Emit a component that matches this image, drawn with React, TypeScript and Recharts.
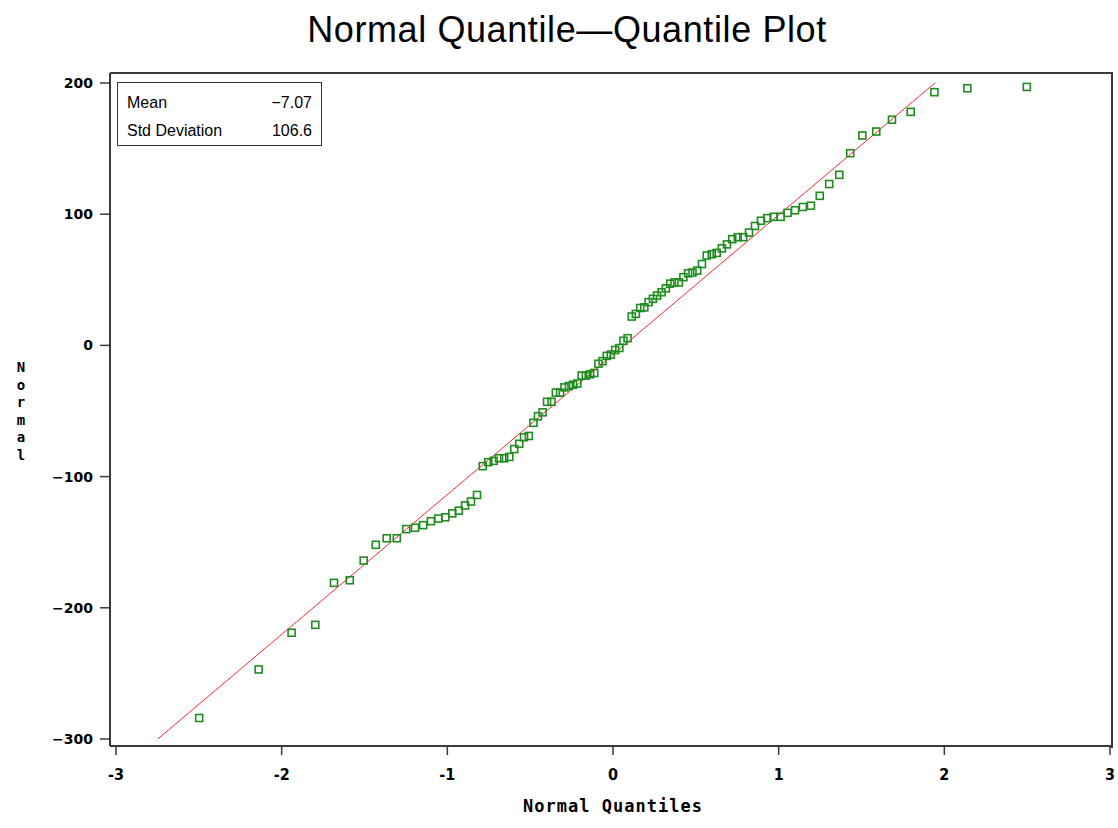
import React from 'react';
import { ScatterChart, Scatter, XAxis, YAxis, ReferenceLine } from 'recharts';

// normal quantiles (x) and sorted sample values (y)
const quantiles = [
  -2.498, -2.139, -1.94, -1.797, -1.684, -1.589, -1.505, -1.432, -1.366, -1.305,
  -1.248, -1.195, -1.146, -1.099, -1.054, -1.012, -0.97, -0.931, -0.893, -0.857,
  -0.821, -0.786, -0.753, -0.72, -0.688, -0.657, -0.626, -0.596, -0.566, -0.537,
  -0.508, -0.48, -0.453, -0.425, -0.398, -0.371, -0.345, -0.319, -0.293, -0.266,
  -0.241, -0.215, -0.189, -0.164, -0.138, -0.113, -0.088, -0.063, -0.038, -0.013,
  0.013, 0.038, 0.063, 0.088, 0.113, 0.138, 0.164, 0.189, 0.215, 0.241,
  0.266, 0.293, 0.319, 0.345, 0.371, 0.398, 0.425, 0.453, 0.48, 0.508,
  0.537, 0.566, 0.596, 0.626, 0.657, 0.688, 0.72, 0.753, 0.786, 0.821,
  0.857, 0.893, 0.931, 0.97, 1.012, 1.054, 1.099, 1.146, 1.195, 1.248,
  1.305, 1.366, 1.432, 1.505, 1.589, 1.684, 1.797, 1.94, 2.139, 2.498,
];

const values = [
  -284, -247, -219, -213, -181, -179, -164, -152, -147, -147,
  -140, -139, -137, -134, -132, -131, -128, -126, -122, -119,
  -114, -92, -89, -88, -86, -86, -85, -79, -75, -70,
  -69, -59, -54, -51, -43, -43, -36, -36, -32, -31,
  -30, -29, -23, -23, -22, -21, -14, -12, -8, -7,
  -3.5, -2, 3.5, 5.5, 22, 24, 28.5, 29, 33, 35.5,
  38, 40.5, 43.5, 47, 48, 48, 52, 55, 55.5, 57,
  62, 68.5, 69.5, 70.5, 74, 77, 81, 82.5, 82.5, 86,
  91, 95, 97, 98, 98, 101, 103, 105.5, 106.5, 114,
  123, 130, 146.5, 160, 163, 172, 178, 193, 196, 197,
];

const xTicks = [-3, -2, -1, 0, 1, 2, 3];
const yTicks = [-300, -200, -100, 0, 100, 200];

// fitted reference line: mean + std * quantile, clipped to the y range
const fitLine = [
  { x: -2.748, y: -300 },
  { x: 1.943, y: 200 },
];

const stats = [
  { label: 'Mean', value: '\u22127.07' },
  { label: 'Std Deviation', value: '106.6' },
];

const points = quantiles.map((q, i) => ({ x: q, y: values[i] }));

const frame = '#3a3a3a';

const Square = (props: any) => {
  const { cx, cy } = props;
  if (cx == null || cy == null) return null;
  return (
    <rect x={cx - 3.5} y={cy - 3.5} width={7} height={7} fill="none" stroke="#1e8c1e" strokeWidth={1.6} />
  );
};

export default function App() {
  return (
    <div style={{ position: 'relative', width: 1118, height: 828, background: '#fff' }}>
      <style>{'body{margin:0;background:#fff}'}</style>
      <div
        style={{
          position: 'absolute',
          top: 9,
          left: 0,
          width: 1134,
          textAlign: 'center',
          fontFamily: '"Liberation Sans", Arial, sans-serif',
          fontSize: 36,
          letterSpacing: 0.6,
          color: '#000',
        }}
      >
        Normal Quantile{'\u2014'}Quantile Plot
      </div>

      <ScatterChart width={1118} height={828} margin={{ top: 73, right: 5, bottom: 0, left: 0 }}>
        <XAxis
          type="number"
          dataKey="x"
          domain={[-3, 3]}
          ticks={xTicks}
          padding={{ left: 6, right: 3 }}
          height={82}
          tickSize={9}
          tickMargin={14}
          axisLine={{ stroke: frame, strokeWidth: 2 }}
          tickLine={{ stroke: frame, strokeWidth: 1.5 }}
          tick={{
            fill: '#000',
            fontSize: 16,
            fontWeight: 'bold',
            fontFamily: '"DejaVu Sans Condensed", "Liberation Sans Narrow", "DejaVu Sans", sans-serif',
          }}
        />
        <YAxis
          type="number"
          dataKey="y"
          domain={[-300, 200]}
          ticks={yTicks}
          padding={{ top: 10, bottom: 7 }}
          width={110}
          tickSize={10}
          tickMargin={7}
          tickFormatter={(v: number) => String(v).replace('-', '\u2212')}
          axisLine={{ stroke: frame, strokeWidth: 2 }}
          tickLine={{ stroke: frame, strokeWidth: 1.5 }}
          tick={{
            fill: '#000',
            fontSize: 14,
            fontWeight: 'bold',
            fontFamily: '"DejaVu Sans", sans-serif',
          }}
        />
        <ReferenceLine segment={fitLine} stroke="#ff2b2b" strokeWidth={1} ifOverflow="visible" />
        <Scatter data={points} shape={<Square />} isAnimationActive={false} />
      </ScatterChart>

      {/* top and right sides of the plot frame */}
      <div
        style={{
          position: 'absolute',
          left: 110,
          top: 72,
          width: 1001,
          height: 674,
          borderTop: `2px solid ${frame}`,
          borderRight: `2px solid ${frame}`,
          pointerEvents: 'none',
        }}
      />

      <div
        style={{
          position: 'absolute',
          left: 117,
          top: 82,
          width: 203,
          height: 62,
          border: '1.5px solid #333',
          fontFamily: '"Liberation Sans", Arial, sans-serif',
          fontSize: 16,
          color: '#000',
          boxSizing: 'content-box',
        }}
      >
        {stats.map((s, i) => (
          <div
            key={s.label}
            style={{
              position: 'absolute',
              left: 9,
              right: 9,
              top: 11 + i * 28,
              display: 'flex',
              justifyContent: 'space-between',
              lineHeight: '18px',
            }}
          >
            <span>{s.label}</span>
            <span>{s.value}</span>
          </div>
        ))}
      </div>

      <div
        style={{
          position: 'absolute',
          left: 13,
          top: 359,
          width: 16,
          textAlign: 'center',
          fontFamily: '"DejaVu Sans Mono", monospace',
          fontWeight: 'bold',
          fontSize: 14,
          lineHeight: '17.6px',
          color: '#000',
        }}
      >
        {'Normal'.split('').map((c, i) => (
          <div key={i}>{c}</div>
        ))}
      </div>

      <div
        style={{
          position: 'absolute',
          top: 796,
          left: 0,
          width: 1226,
          textAlign: 'center',
          fontFamily: '"DejaVu Sans Mono", monospace',
          fontWeight: 'bold',
          fontSize: 17,
          letterSpacing: 1,
          color: '#000',
        }}
      >
        Normal Quantiles
      </div>
    </div>
  );
}
